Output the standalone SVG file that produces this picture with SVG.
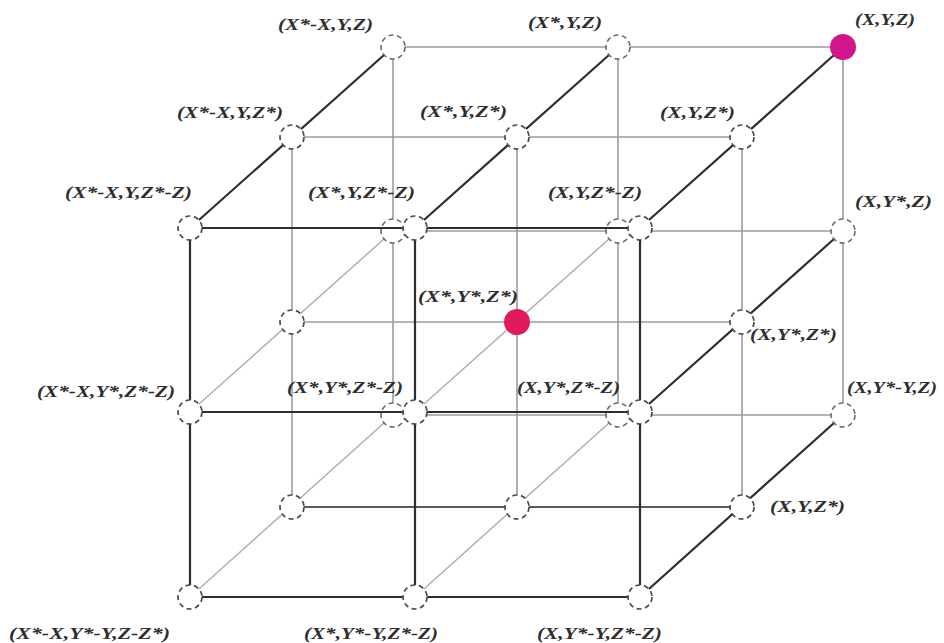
<svg xmlns="http://www.w3.org/2000/svg" width="944" height="643" viewBox="0 0 944 643">
<style>
.dk{stroke:#2e2e2e;stroke-width:2.2;fill:none}
.gr{stroke:#9c9c9c;stroke-width:1.6;fill:none}
.md{stroke:#5a5a5a;stroke-width:1.8;fill:none}
.lt{stroke:#b0b0b0;stroke-width:1.5;fill:none}
.n{fill:#fff;stroke:#4a4a4a;stroke-width:1.7;stroke-dasharray:5 3.6}
.nb{fill:none;stroke:#6a6a6a;stroke-width:1.6;stroke-dasharray:5 3.6}
.m1{fill:#d0168a}
.m2{fill:#e2195f}
text{font-family:"Liberation Serif","Times New Roman",serif;font-style:italic;font-weight:bold;font-size:17px;fill:#2e2e2e}
</style>
<rect width="944" height="643" fill="#fff"/>
<g id="connectors">
  <!-- back layer -->
  <line class="gr" x1="405" y1="47" x2="606" y2="47"/>
  <line class="gr" x1="630" y1="47" x2="843" y2="47"/>
  <line class="gr" x1="405" y1="231" x2="606" y2="231"/>
  <line class="gr" x1="630" y1="231" x2="831" y2="231"/>
  <line class="gr" x1="405" y1="415" x2="606" y2="415"/>
  <line class="gr" x1="630" y1="415" x2="831" y2="415"/>
  <line class="gr" x1="393" y1="59" x2="393" y2="219"/>
  <line class="gr" x1="393" y1="243" x2="393" y2="403"/>
  <line class="gr" x1="618" y1="59" x2="618" y2="219"/>
  <line class="gr" x1="618" y1="243" x2="618" y2="403"/>
  <line class="gr" x1="843" y1="47" x2="843" y2="219"/>
  <line class="gr" x1="843" y1="243" x2="843" y2="403"/>
  <!-- middle layer -->
  <line class="gr" x1="292" y1="137" x2="742" y2="137"/>
  <line class="gr" x1="292" y1="322" x2="742" y2="322"/>
  <line class="md" x1="292" y1="507" x2="742" y2="507"/>
  <line class="gr" x1="292" y1="137" x2="292" y2="507"/>
  <line class="gr" x1="517" y1="137" x2="517" y2="507"/>
  <line class="gr" x1="742" y1="137" x2="742" y2="507"/>
  <!-- depth lines -->
  <line class="dk" x1="190" y1="228" x2="384" y2="55"/>
  <line class="dk" x1="415" y1="228" x2="609" y2="55"/>
  <line class="dk" x1="640" y1="228" x2="843" y2="47"/>
  <line class="lt" x1="190" y1="412" x2="384" y2="239"/>
  <line class="lt" x1="415" y1="412" x2="609" y2="239"/>
  <line class="dk" x1="640" y1="412" x2="834" y2="239"/>
  <line class="lt" x1="190" y1="597" x2="384" y2="423"/>
  <line class="lt" x1="415" y1="597" x2="609" y2="423"/>
  <line class="dk" x1="640" y1="597" x2="834" y2="423"/>
  <!-- front layer -->
  <line class="dk" x1="190" y1="228" x2="640" y2="228"/>
  <line class="dk" x1="190" y1="412" x2="640" y2="412"/>
  <line class="dk" x1="190" y1="597" x2="640" y2="597"/>
  <line class="dk" x1="190" y1="228" x2="190" y2="597"/>
  <line class="dk" x1="415" y1="228" x2="415" y2="597"/>
  <line class="dk" x1="640" y1="228" x2="640" y2="597"/>
</g>
<!-- back layer nodes -->
<g id="node-b00"><circle class="nb" cx="393" cy="47" r="12"/><text x="278" y="30" textLength="95" lengthAdjust="spacingAndGlyphs">(X*-X,Y,Z)</text></g>
<g id="node-b10"><circle class="nb" cx="618" cy="47" r="12"/><text x="528" y="28" textLength="74" lengthAdjust="spacingAndGlyphs">(X*,Y,Z)</text></g>
<g id="node-b20"><circle class="m1" cx="843" cy="47" r="13"/><text x="855" y="25" textLength="60" lengthAdjust="spacingAndGlyphs">(X,Y,Z)</text></g>
<g id="node-b01"><circle class="nb" cx="393" cy="231" r="12"/></g>
<g id="node-b11"><circle class="nb" cx="618" cy="231" r="12"/></g>
<g id="node-b21"><circle class="nb" cx="843" cy="231" r="12"/><text x="855" y="207" textLength="77" lengthAdjust="spacingAndGlyphs">(X,Y*,Z)</text></g>
<g id="node-b02"><circle class="nb" cx="393" cy="415" r="12"/></g>
<g id="node-b12"><circle class="nb" cx="618" cy="415" r="12"/></g>
<g id="node-b22"><circle class="nb" cx="843" cy="415" r="12"/><text x="847" y="393" textLength="90" lengthAdjust="spacingAndGlyphs">(X,Y*-Y,Z)</text></g>
<!-- middle layer nodes -->
<g id="node-m00"><circle class="n" cx="292" cy="137" r="12"/><text x="177" y="118" textLength="106" lengthAdjust="spacingAndGlyphs">(X*-X,Y,Z*)</text></g>
<g id="node-m10"><circle class="n" cx="517" cy="137" r="12"/><text x="420" y="117" textLength="87" lengthAdjust="spacingAndGlyphs">(X*,Y,Z*)</text></g>
<g id="node-m20"><circle class="n" cx="742" cy="137" r="12"/><text x="660" y="118" textLength="75" lengthAdjust="spacingAndGlyphs">(X,Y,Z*)</text></g>
<g id="node-m01"><circle class="n" cx="292" cy="322" r="12"/></g>
<g id="node-m11"><circle class="m2" cx="517" cy="322" r="13"/><text x="418" y="302" textLength="100" lengthAdjust="spacingAndGlyphs">(X*,Y*,Z*)</text></g>
<g id="node-m21"><circle class="n" cx="742" cy="322" r="12"/><text x="750" y="340" textLength="87" lengthAdjust="spacingAndGlyphs">(X,Y*,Z*)</text></g>
<g id="node-m02"><circle class="n" cx="292" cy="507" r="12"/></g>
<g id="node-m12"><circle class="n" cx="517" cy="507" r="12"/></g>
<g id="node-m22"><circle class="n" cx="742" cy="507" r="12"/><text x="770" y="512" textLength="75" lengthAdjust="spacingAndGlyphs">(X,Y,Z*)</text></g>
<!-- front layer nodes -->
<g id="node-f00"><circle class="n" cx="190" cy="228" r="12"/><text x="65" y="198" textLength="127" lengthAdjust="spacingAndGlyphs">(X*-X,Y,Z*-Z)</text></g>
<g id="node-f10"><circle class="n" cx="415" cy="228" r="12"/><text x="308" y="198" textLength="107" lengthAdjust="spacingAndGlyphs">(X*,Y,Z*-Z)</text></g>
<g id="node-f20"><circle class="n" cx="640" cy="228" r="12"/><text x="548" y="198" textLength="94" lengthAdjust="spacingAndGlyphs">(X,Y,Z*-Z)</text></g>
<g id="node-f01"><circle class="n" cx="190" cy="412" r="12"/><text x="37" y="397" textLength="138" lengthAdjust="spacingAndGlyphs">(X*-X,Y*,Z*-Z)</text></g>
<g id="node-f11"><circle class="n" cx="415" cy="412" r="12"/><text x="287" y="393" textLength="116" lengthAdjust="spacingAndGlyphs">(X*,Y*,Z*-Z)</text></g>
<g id="node-f21"><circle class="n" cx="640" cy="412" r="12"/><text x="517" y="393" textLength="103" lengthAdjust="spacingAndGlyphs">(X,Y*,Z*-Z)</text></g>
<g id="node-f02"><circle class="n" cx="190" cy="597" r="12"/><text x="9" y="639" textLength="161" lengthAdjust="spacingAndGlyphs">(X*-X,Y*-Y,Z-Z*)</text></g>
<g id="node-f12"><circle class="n" cx="415" cy="597" r="12"/><text x="304" y="639" textLength="134" lengthAdjust="spacingAndGlyphs">(X*,Y*-Y,Z*-Z)</text></g>
<g id="node-f22"><circle class="n" cx="640" cy="597" r="12"/><text x="537" y="639" textLength="125" lengthAdjust="spacingAndGlyphs">(X,Y*-Y,Z*-Z)</text></g>
</svg>
